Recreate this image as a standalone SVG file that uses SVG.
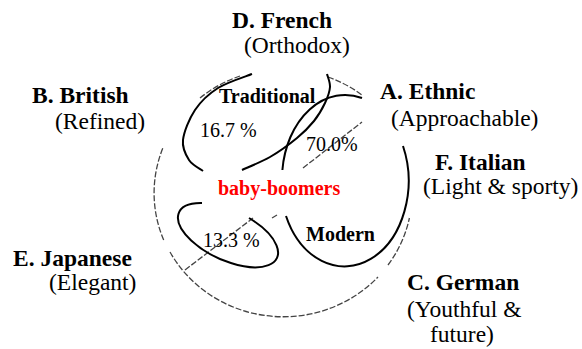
<svg xmlns="http://www.w3.org/2000/svg" width="582" height="349" viewBox="0 0 582 349">
<style>
.b{font-family:"Liberation Serif","Times New Roman",serif;font-weight:bold;font-size:23.5px;fill:#000}
.r{font-family:"Liberation Serif","Times New Roman",serif;font-size:23.5px;fill:#000}
.sb{font-family:"Liberation Serif","Times New Roman",serif;font-weight:bold;font-size:20px;fill:#000}
.sr{font-family:"Liberation Serif","Times New Roman",serif;font-size:20px;fill:#000}
.solid{fill:none;stroke:#000;stroke-width:2}
.dash{fill:none;stroke:#444;stroke-width:1.3;stroke-dasharray:6 2}
</style>
<rect width="582" height="349" fill="#fff"/>
<g id="connectors">
  <g id="outer-circle">
    <path class="dash" d="M200,98 A129,124 0 0 1 240,76"/>
    <path class="dash" d="M328,77 A129,124 0 0 1 362,95"/>
    <path class="dash" d="M163.7,240 A129,124 0 0 1 163.3,147"/>
    <path class="dash" d="M170,252 A129,124 0 0 0 378,277"/>
    <path class="dash" d="M388,265 A129,124 0 0 0 409.4,218"/>
    <path class="dash" d="M303,168 L362,122"/>
    <path class="dash" d="M185,270 L253,218"/>
    <path class="dash" d="M272,218 L277,215"/>
  </g>
  <g id="traditional-ellipse">
    <path class="solid" d="M203,171 C200.7,169.2 192.3,165.2 189,160 C185.7,154.8 182,148.3 183,140 C184,131.7 189.2,118.7 195,110 C200.8,101.3 208.5,94 218,88 C227.5,82 246.3,76.3 252,74"/>
    <path class="solid" d="M327,74 C327.5,76.2 330.3,82.2 330,87 C329.7,91.8 327.7,97.3 325,103 C322.3,108.7 318.7,115.2 314,121 C309.3,126.8 304.3,132 297,138 C289.7,144 279.2,151.7 270,157 C260.8,162.3 246.7,167.8 242,170"/>
  </g>
  <g id="ethnic-modern-ellipse">
    <path class="solid" d="M362,98 A63,84 0 0 0 282.4,170"/>
    <path class="solid" d="M286,216 A63,84 0 0 0 403,146"/>
  </g>
  <g id="japanese-ellipse">
    <path class="solid" d="M202,203 A54,25 25 1 0 249,218"/>
  </g>
</g>
<g id="node-french"><text class="b" x="232" y="28">D. French</text><text class="r" x="244" y="53">(Orthodox)</text></g>
<g id="node-british"><text class="b" x="32" y="103">B. British</text><text class="r" x="55" y="129">(Refined)</text></g>
<g id="node-ethnic"><text class="b" x="380" y="99">A. Ethnic</text><text class="r" x="391" y="126">(Approachable)</text></g>
<g id="node-italian"><text class="b" x="435" y="170">F. Italian</text><text class="r" x="423" y="194">(Light &amp; sporty)</text></g>
<g id="node-japanese"><text class="b" x="13" y="266">E. Japanese</text><text class="r" x="49" y="290">(Elegant)</text></g>
<g id="node-german"><text class="b" x="407" y="290">C. German</text><text class="r" x="407" y="317">(Youthful &amp;</text><text class="r" x="430" y="342">future)</text></g>
<g id="node-traditional"><text class="sb" x="219" y="103">Traditional</text><text class="sr" x="200" y="137">16.7 %</text></g>
<g id="node-share70"><text class="sr" x="306" y="151">70.0%</text></g>
<g id="node-babyboomers"><text class="sb" x="218" y="195" fill="#ff0000" style="fill:#ff0000">baby-boomers</text></g>
<g id="node-share13"><text class="sr" x="203" y="247">13.3 %</text></g>
<g id="node-modern"><text class="sb" x="306" y="241">Modern</text></g>
</svg>
